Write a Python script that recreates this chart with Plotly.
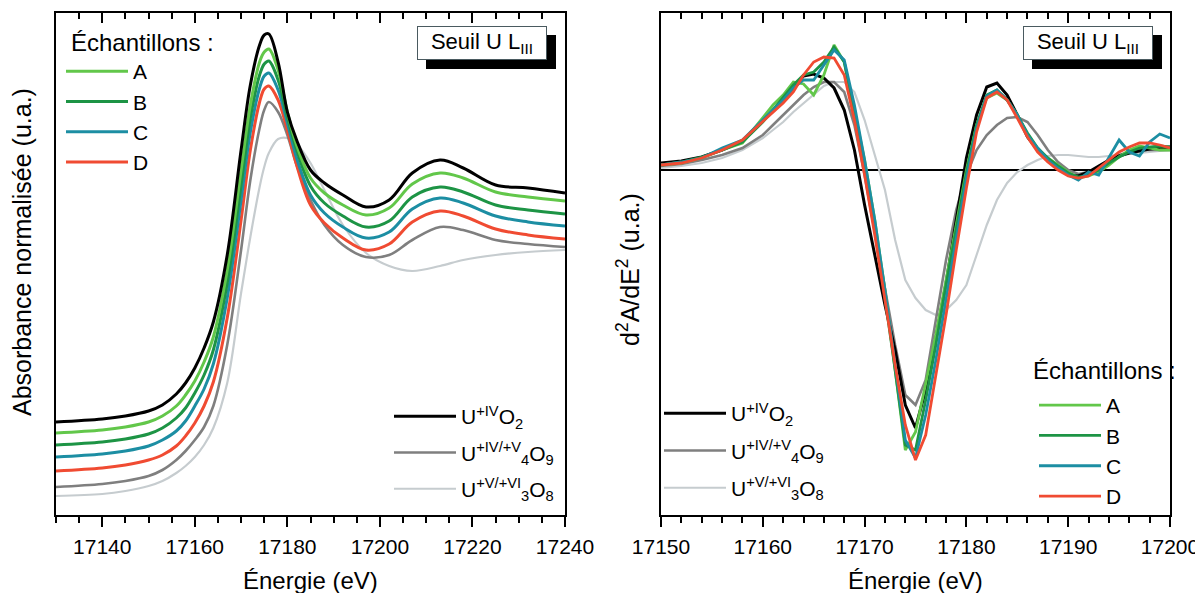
import plotly.graph_objects as go

FONT = "Liberation Sans, Arial, sans-serif"

# ---------------- Left panel : XANES (normalised absorbance, offset, a.u.) ----------------
E_xanes = [17130, 17140, 17145, 17150, 17153, 17156, 17158, 17160, 17162, 17164, 17167,
           17170, 17172, 17174, 17175, 17176, 17178, 17180, 17182, 17185, 17188, 17192, 17197,
           17202, 17207, 17213, 17218, 17225, 17232, 17240]
uo2_xanes = [93, 96, 99, 104, 110, 121, 132, 147, 167, 193, 260,
             365, 430, 470, 480, 481, 453, 403, 375, 345, 332, 320, 308, 315, 342, 355, 347, 330, 327, 322]
a_xanes = [82, 85, 88, 93, 99, 109, 120, 134, 153, 178, 245,
           345, 410, 453, 463, 466, 445, 403, 370, 337, 322, 310, 300, 307, 331, 342, 337, 323, 318, 314]
b_xanes = [70, 73, 76, 81, 87, 97, 107, 122, 140, 165, 232,
           330, 397, 440, 451, 454, 435, 398, 365, 329, 312, 299, 288, 294, 318, 328, 323, 310, 305, 301]
c_xanes = [58, 61, 64, 69, 75, 84, 94, 109, 126, 151, 217,
           315, 383, 427, 439, 442, 425, 392, 357, 320, 302, 288, 277, 283, 306, 317, 312, 299, 293, 289]
d_xanes = [44, 47, 50, 55, 60, 69, 79, 92, 109, 133, 197,
           295, 365, 413, 426, 429, 415, 385, 350, 310, 292, 277, 265, 271, 293, 304, 299, 286, 280, 276]
u4o9_xanes = [28, 31, 34, 39, 45, 55, 64, 75, 88, 109, 170,
              265, 335, 387, 405, 413, 403, 380, 350, 315, 290, 270, 258, 260, 275, 288, 285, 275, 271, 268]
u3o8_xanes = [19, 21, 24, 29, 34, 42, 49, 58, 70, 87, 132,
              222, 278, 328, 348, 362, 376, 377, 371, 352, 325, 290, 262, 249, 244, 249, 255, 260, 263, 265]

# ---------------- Right panel : second derivative (a.u.) ----------------
E_deriv = [17150, 17152, 17154, 17156, 17158, 17160,
           17161, 17162, 17163, 17164, 17165, 17166, 17167, 17168, 17169, 17170,
           17171, 17172, 17173, 17174, 17175, 17176, 17177, 17178, 17179, 17180,
           17181, 17182, 17183, 17184, 17185, 17186, 17187, 17188, 17189, 17190,
           17191, 17192, 17193, 17194, 17195, 17196, 17197, 17198, 17199, 17200]
uo2_d2 = [7, 9, 13, 20, 29, 49,
          59, 70, 82, 94, 96, 92, 82, 60, 20, -35,
          -85, -135, -180, -235, -258, -220, -168, -113, -50, 12,
          55, 83, 87, 75, 55, 33, 20, 10, 2, -5,
          -6, -2, 4, 10, 14, 17, 19, 21, 22, 23]
a_d2 = [5, 7, 12, 20, 27, 52,
        65, 75, 88, 86, 75, 95, 125, 108, 60, 10,
        -50, -120, -200, -280, -262, -215, -165, -110, -55, 0,
        45, 72, 77, 70, 55, 35, 20, 12, 5, -2,
        -8, -6, -2, 5, 13, 20, 24, 22, 20, 20]
b_d2 = [5, 8, 13, 20, 28, 48,
        60, 72, 85, 95, 98, 108, 123, 108, 58, 5,
        -55, -125, -200, -275, -280, -230, -175, -115, -58, -3,
        45, 75, 80, 70, 55, 37, 22, 12, 4, -3,
        -7, -5, 0, 7, 13, 18, 22, 23, 24, 23]
c_d2 = [5, 8, 12, 22, 30, 50,
        60, 70, 82, 90, 90, 105, 120, 110, 65, 10,
        -50, -120, -195, -270, -288, -245, -190, -130, -68, -8,
        42, 74, 80, 70, 55, 35, 22, 10, 2, -5,
        -10, -2, -5, 12, 30, 18, 14, 28, 36, 32]
d_d2 = [5, 7, 12, 20, 30, 48,
        58, 67, 78, 95, 108, 113, 112, 95, 50, -5,
        -65, -130, -195, -255, -290, -265, -205, -145, -80, -18,
        38, 72, 78, 70, 52, 33, 18, 8, 0, -6,
        -8, -6, 2, 10, 18, 23, 27, 27, 25, 22]
u4o9_d2 = [4, 6, 10, 15, 22, 35,
           45, 55, 65, 75, 83, 88, 88, 78, 45, -5,
           -62, -120, -175, -225, -235, -210, -150, -90, -40, -5,
           20, 35, 45, 52, 53, 48, 35, 20, 8, 0,
           -4, -2, 3, 10, 15, 18, 20, 20, 20, 20]
u3o8_d2 = [2, 4, 7, 12, 20, 32,
           40, 48, 58, 67, 76, 84, 88, 88, 78, 50,
           15, -20, -70, -110, -128, -140, -145, -140, -130, -115,
           -85, -55, -30, -13, -2, 5, 10, 14, 15, 15,
           14, 13, 13, 14, 15, 16, 17, 18, 19, 20]

# ---------------- labels / styles ----------------
sample_names = ["A", "B", "C", "D"]
ref_names = ["U<sup>+IV</sup>O<sub>2</sub>",
             "U<sup>+IV/+V</sup><sub>4</sub>O<sub>9</sub>",
             "U<sup>+V/+VI</sup><sub>3</sub>O<sub>8</sub>"]
legend_title = "Échantillons :"
edge_label = "Seuil U L<sub>III</sub>"
x_title = "Énergie (eV)"
y_title_left = "Absorbance normalisée (u.a.)"
y_title_right = "d<sup>2</sup>A/dE<sup>2</sup> (u.a.)"
sample_colors = ["#62c74a", "#1d9445", "#1c8ea3", "#f04b32"]
ref_colors = ["#000000", "#7f7f7f", "#c6cccf"]
ref_widths = [3, 2.6, 2.2]

fig = go.Figure()

left_samples = [a_xanes, b_xanes, c_xanes, d_xanes]
left_refs = [uo2_xanes, u4o9_xanes, u3o8_xanes]
right_samples = [a_d2, b_d2, c_d2, d_d2]
right_refs = [uo2_d2, u4o9_d2, u3o8_d2]

for i in [2, 1]:
    fig.add_trace(go.Scatter(x=E_xanes, y=left_refs[i], mode="lines", name=ref_names[i],
                             line=dict(color=ref_colors[i], width=ref_widths[i], shape="spline", smoothing=1.0),
                             xaxis="x", yaxis="y", legend="legend2", legendrank=i + 1,
                             legendgroup="lref%d" % i))
for i in [3, 2, 1, 0]:
    fig.add_trace(go.Scatter(x=E_xanes, y=left_samples[i], mode="lines", name=sample_names[i],
                             line=dict(color=sample_colors[i], width=3, shape="spline", smoothing=1.0),
                             xaxis="x", yaxis="y", legend="legend", legendrank=i + 1))
fig.add_trace(go.Scatter(x=E_xanes, y=left_refs[0], mode="lines", name=ref_names[0],
                         line=dict(color=ref_colors[0], width=ref_widths[0], shape="spline", smoothing=1.0),
                         xaxis="x", yaxis="y", legend="legend2", legendrank=1, legendgroup="lref0"))

for i in [2, 1, 0]:
    fig.add_trace(go.Scatter(x=E_deriv, y=right_refs[i], mode="lines", name=ref_names[i],
                             line=dict(color=ref_colors[i], width=ref_widths[i]),
                             xaxis="x2", yaxis="y2", legend="legend3", legendrank=i + 1,
                             legendgroup="rref%d" % i))
for i in [0, 1, 2, 3]:
    fig.add_trace(go.Scatter(x=E_deriv, y=right_samples[i], mode="lines", name=sample_names[i],
                             line=dict(color=sample_colors[i], width=2.8),
                             xaxis="x2", yaxis="y2", legend="legend4", legendrank=i + 1))

fig.add_trace(go.Scatter(x=[], y=[], xaxis="x3", yaxis="y", showlegend=False, hoverinfo="skip"))
fig.add_trace(go.Scatter(x=[], y=[], xaxis="x4", yaxis="y2", showlegend=False, hoverinfo="skip"))

# The page body has an 8 px margin: the figure is drawn 8 px right and down of the
# window origin, so it is sized to fill exactly the visible window.
OFF = 8
W, H = 1203 - OFF, 593 - OFF

def px(xs):  # screen x (px) -> paper fraction
    return (xs - OFF) / W

def py(ys):  # screen y (px) -> paper fraction
    return 1 - (ys - OFF) / H

L1, R1 = 56, 565
L2, R2 = 661, 1170
TOP, BOT = 13, 515
xd1 = [px(L1), px(R1)]
xd2 = [px(L2), px(R2)]
yd = [py(BOT), py(TOP)]

axis_common = dict(showline=True, linewidth=2, linecolor="black", showgrid=False, zeroline=False,
                   automargin=False)

def bottom_axis(rng, t0, dtick, mdtick, dom, anchor):
    return dict(domain=dom, anchor=anchor, range=rng, tick0=t0, dtick=dtick, tickformat="d",
                ticks="outside", ticklen=10, tickwidth=2, tickcolor="black",
                mirror=True, tickfont=dict(size=21, family=FONT), ticklabelstandoff=2,
                minor=dict(ticks="outside", ticklen=6, tickwidth=1.5, tickcolor="black",
                           dtick=mdtick, showgrid=False), **axis_common)

def top_axis(rng, t0, dtick, mdtick, overl, anchor):
    return dict(overlaying=overl, anchor=anchor, side="top", range=rng, tick0=t0, dtick=dtick,
                ticks="inside", ticklen=10, tickwidth=2, tickcolor="black", showticklabels=False,
                showline=False, showgrid=False, zeroline=False, automargin=False,
                minor=dict(ticks="inside", ticklen=6, tickwidth=1.5, tickcolor="black",
                           dtick=mdtick, showgrid=False))

legend_common = dict(bgcolor="rgba(0,0,0,0)", borderwidth=0, xanchor="left", yanchor="top",
                     font=dict(size=21, family=FONT, color="black"), itemwidth=62)

fig.update_layout(
    template="none",
    width=W, height=H,
    margin=dict(l=0, r=0, t=0, b=0, pad=0, autoexpand=False),
    paper_bgcolor="white", plot_bgcolor="white",
    font=dict(family=FONT, size=21, color="black"),
    xaxis=bottom_axis([17130, 17240], 17140, 20, 5, xd1, "y"),
    xaxis3=top_axis([17130, 17240], 17140, 20, 5, "x", "y"),
    yaxis=dict(domain=yd, anchor="x", range=[0, 502], ticks="", showticklabels=False,
               mirror=True, **axis_common),
    xaxis2=bottom_axis([17150, 17200], 17150, 10, 2, xd2, "y2"),
    xaxis4=top_axis([17150, 17200], 17150, 10, 2, "x2", "y2"),
    yaxis2=dict(domain=yd, anchor="x2", range=[-345, 157], ticks="", showticklabels=False,
                mirror=True, showline=True, linewidth=2, linecolor="black", showgrid=False,
                zeroline=True, zerolinecolor="black", zerolinewidth=2, automargin=False),
    legend=dict(x=px(61), y=py(51), tracegroupgap=0, **legend_common),
    legend2=dict(x=px(389), y=py(396), tracegroupgap=6, **legend_common),
    legend3=dict(x=px(659), y=py(393), tracegroupgap=7, **legend_common),
    legend4=dict(x=px(1034), y=py(385), tracegroupgap=0, **legend_common),
)

annotations = []
annotations.append(dict(text=x_title, x=px((L1 + R1) / 2), y=py(580), xref="paper", yref="paper",
                        showarrow=False, font=dict(size=24), xanchor="center", yanchor="middle"))
annotations.append(dict(text=x_title, x=px((L2 + R2) / 2), y=py(580), xref="paper", yref="paper",
                        showarrow=False, font=dict(size=24), xanchor="center", yanchor="middle"))
annotations.append(dict(text=y_title_left, x=px(22), y=py(252), xref="paper",
                        yref="paper", showarrow=False, textangle=-90, font=dict(size=25),
                        xanchor="center", yanchor="middle"))
annotations.append(dict(text=y_title_right, x=px(628), y=py(270), xref="paper",
                        yref="paper", showarrow=False, textangle=-90, font=dict(size=25),
                        xanchor="center", yanchor="middle"))
# legend titles
annotations.append(dict(text=legend_title, x=px(69), y=py(42), xref="paper", yref="paper",
                        showarrow=False, font=dict(size=24), xanchor="left", yanchor="middle"))
annotations.append(dict(text=legend_title, x=px(1031), y=py(370), xref="paper", yref="paper",
                        showarrow=False, font=dict(size=24), xanchor="left", yanchor="middle"))
for cx in [482, 1088]:
    # drop shadow
    annotations.append(dict(text="&nbsp;", x=px(cx), y=py(43), xref="paper", yref="paper",
                            showarrow=False, font=dict(size=22, color="black"), bgcolor="black",
                            bordercolor="black", borderwidth=1, borderpad=3, width=122, height=26,
                            xanchor="center", yanchor="middle", xshift=9, yshift=-9))
    annotations.append(dict(text=edge_label, x=px(cx), y=py(43), xref="paper", yref="paper",
                            showarrow=False, font=dict(size=22, color="black"), bgcolor="white",
                            bordercolor="#4a5a60", borderwidth=1, borderpad=3, width=122, height=26,
                            xanchor="center", yanchor="middle"))
fig.update_layout(annotations=annotations)

fig.write_html("out.html")
